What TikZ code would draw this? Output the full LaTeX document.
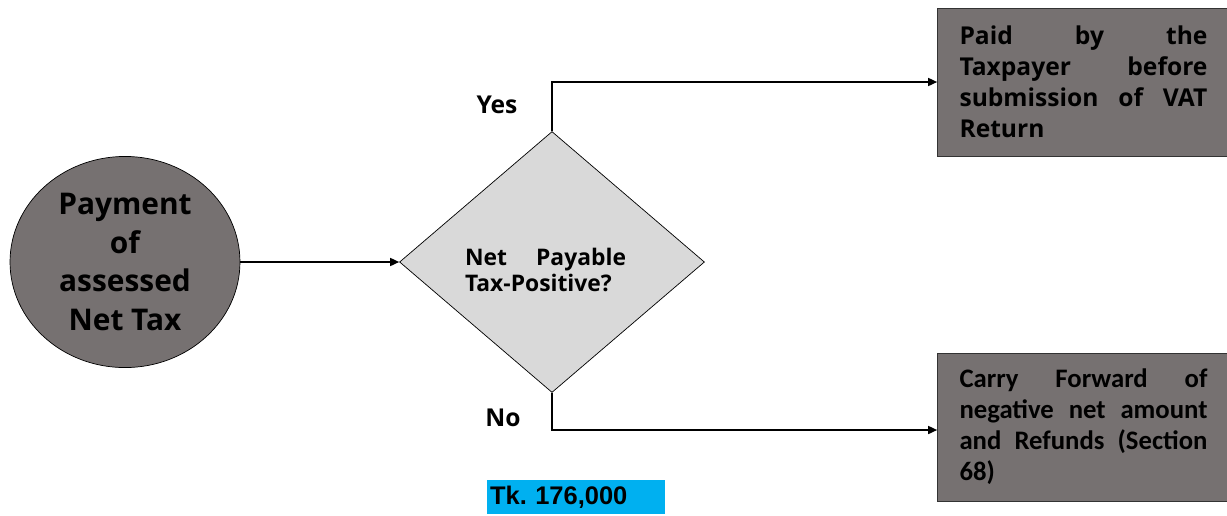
\documentclass[tikz,border=0pt]{standalone}
\usepackage{fontspec}
\setmainfont{Open Sans}
\newfontfamily\calibrifont{Carlito}
\newfontfamily\arialfont{Liberation Sans}
\usetikzlibrary{positioning, shapes.geometric, calc, arrows.meta}
\definecolor{boxgray}{HTML}{767171}
\definecolor{diagray}{HTML}{D9D9D9}
\definecolor{tkblue}{HTML}{00B0F0}
\tikzset{
        start-node/.style={
            ellipse, draw, fill=boxgray, minimum width=4.6cm, minimum height=3.9cm,
            align=center, font=\fontsize{17}{22}\selectfont\bfseries
        },
        decision/.style={
            diamond, draw, fill=diagray, minimum width=6.1cm, minimum height=5.22cm, inner sep=0pt
        },
        decision-text/.style={
            text width=3.22cm, align=justify, inner sep=0pt, font=\fontsize{13}{15}\selectfont\bfseries
        },
        result/.style={
            rectangle, draw=black!80, fill=boxgray, minimum width=5.84cm, minimum height=2.96cm,
            text width=4.96cm, align=justify, inner sep=0pt
        },
        branch/.style={font=\fontsize{14}{16}\selectfont\bfseries},
        amount/.style={
            fill=tkblue, minimum width=3.56cm, minimum height=0.68cm, text width=3.44cm,
            align=left, inner sep=0.06cm, font=\arialfont\fontsize{14.5}{16}\selectfont\bfseries
        },
        flow/.style={draw, line width=0.9pt, -{Triangle[length=1.8mm, width=1.6mm]}},
}

\begin{document}
\begin{tikzpicture}[x=0.02cm, y=-0.02cm]

        % CANVAS (pixel grid, y runs downwards)
        \path[use as bounding box, fill=white] (0,0) rectangle (1227,515);

        % DRAW NODES
        \node[start-node]    (start)  at (125,262)    {Payment\\of\\assessed\\Net Tax};
        \node[decision]      (chk)    at (552,262)    {};
        \node[decision-text] (chktxt) at ($(chk)+(-6.5,8)$) {Net Payable\linebreak Tax-Positive?};
        \node[result, font=\fontsize{14}{17.6}\selectfont\bfseries]
                             (paid)   at (1083.5,82)  {Paid by the\linebreak Taxpayer before\linebreak submission of VAT\linebreak Return};
        \node[result, font=\calibrifont\fontsize{15.2}{17.6}\selectfont\bfseries]
                             (carry)  at (1083.5,427) {Carry Forward of\linebreak negative net amount\linebreak and Refunds (Section\linebreak 68)};
        \node[branch]        (yes)    at (497,105)    {Yes};
        \node[branch]        (no)     at (503,418)    {No};
        \node[amount]        (tk)     at (576,497)    {Tk.\ 176,000};

        % CONNECT
        \draw[flow] (start.east) -- (chk.west);
        \draw[flow] (chk.north) |- (paid.west);
        \draw[flow] (chk.south) |- ($(carry.west)+(0,3)$);

    \end{tikzpicture}
\end{document}
